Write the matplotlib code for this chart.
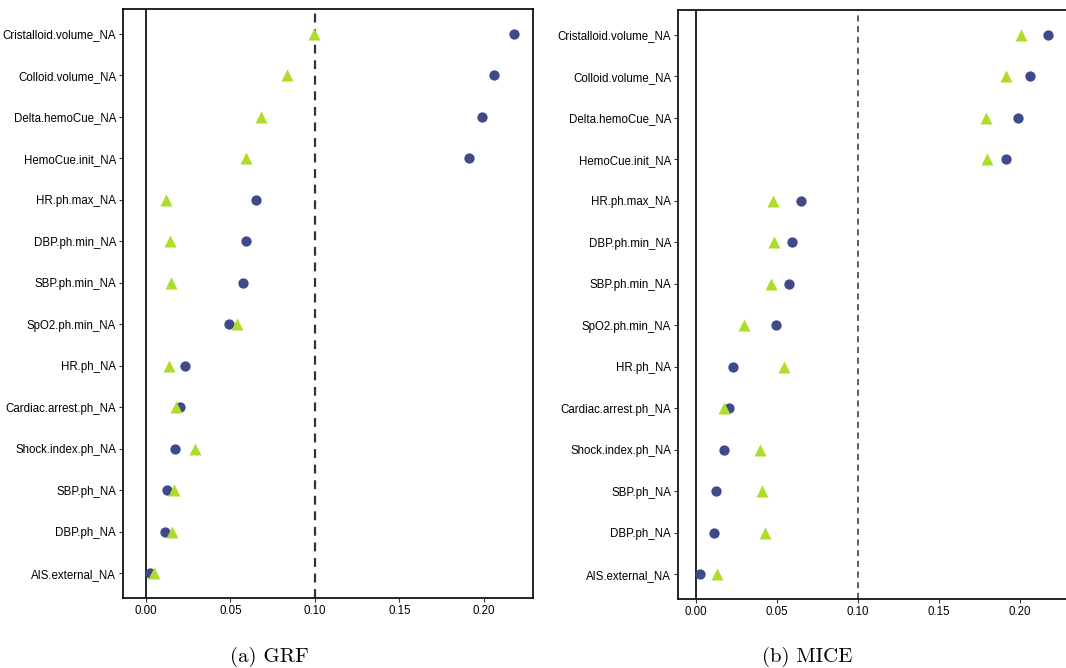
import numpy as np
import matplotlib
matplotlib.use("Agg")
import matplotlib.pyplot as plt

# variables, bottom to top
variables = ["AIS.external_NA", "DBP.ph_NA", "SBP.ph_NA", "Shock.index.ph_NA",
             "Cardiac.arrest.ph_NA", "HR.ph_NA", "SpO2.ph.min_NA", "SBP.ph.min_NA",
             "DBP.ph.min_NA", "HR.ph.max_NA", "HemoCue.init_NA", "Delta.hemoCue_NA",
             "Colloid.volume_NA", "Cristalloid.volume_NA"]

# circles: same reference values in both panels
orig_vals = [0.0025, 0.0112, 0.0125, 0.0170, 0.0202, 0.0231, 0.0492, 0.0575,
             0.0590, 0.0649, 0.1912, 0.1990, 0.2062, 0.2175]
# triangles
grf_vals = [0.0047, 0.0154, 0.0166, 0.0290, 0.0180, 0.0136, 0.0540, 0.0148,
            0.0142, 0.0118, 0.0590, 0.0680, 0.0834, 0.0994]
mice_vals = [0.0130, 0.0425, 0.0407, 0.0394, 0.0175, 0.0545, 0.0299, 0.0462,
             0.0479, 0.0475, 0.1796, 0.1790, 0.1911, 0.2008]

captions = ["(a) GRF", "(b) MICE"]

circ_col = "#3F4A8A"
tri_col = "#AEDC2A"

fig = plt.figure(figsize=(10.66, 6.68), dpi=100)
ax1 = fig.add_axes([0.1154, 0.1048, 0.3846, 0.8817])
ax2 = fig.add_axes([0.6360, 0.1033, 0.3650, 0.8817])

y = np.arange(1, len(variables) + 1)

for ax, tri, cap, cx, lw, xl in [(ax1, grf_vals, captions[0], 0.253, 1.6, -0.0136),
                                 (ax2, mice_vals, captions[1], 0.757, 1.1, -0.0111)]:
    ax.axvline(0, color="black", lw=1.2, zorder=1)
    ax.axvline(0.1, color="#333333", lw=lw, ls=(0, (4, 3)), zorder=1)
    ax.scatter(orig_vals, y, s=55, marker="o", color=circ_col, zorder=3, linewidths=0)
    ax.scatter(tri, y, s=75, marker="^", color=tri_col, zorder=4, linewidths=0)
    ax.set_xlim(xl, 0.229)
    ax.set_ylim(0.4, len(variables) + 0.6)
    ax.set_yticks(y)
    ax.set_yticklabels(variables, fontsize=8.3, family="Liberation Sans")
    ax.set_xticks([0, 0.05, 0.1, 0.15, 0.2])
    ax.set_xticklabels(["0.00", "0.05", "0.10", "0.15", "0.20"], fontsize=8.3,
                       family="Liberation Sans")
    ax.tick_params(axis="both", length=3, width=0.8, color="#333333", pad=2)
    for sp in ax.spines.values():
        sp.set_linewidth(1.2)
    fig.text(cx, 0.002, cap, ha="center", va="bottom", fontsize=15, family="cmr10")

fig.savefig("out.png", dpi=100)
